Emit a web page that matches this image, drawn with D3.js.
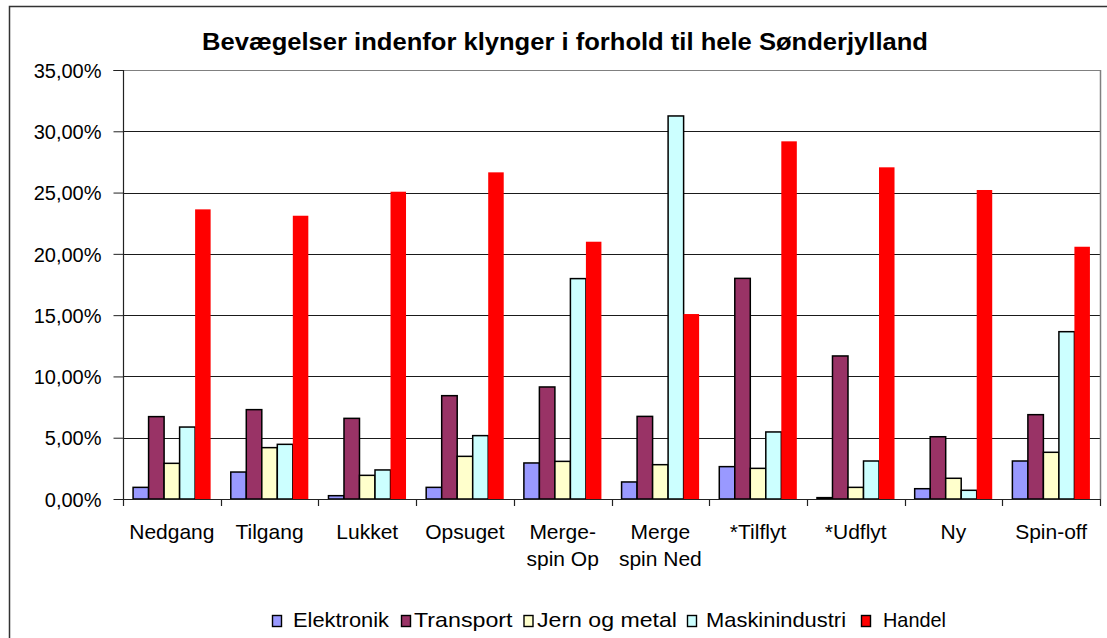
<!DOCTYPE html>
<html><head><meta charset="utf-8">
<script src="https://cdn.jsdelivr.net/npm/d3@7"></script>
<style>
html,body{margin:0;padding:0;background:#fff;}
svg{display:block;font-family:"Liberation Sans",Arial,sans-serif;}
</style></head>
<body>
<svg id="c" width="1107" height="638"></svg>
<script>
const categories = ["Nedgang","Tilgang","Lukket","Opsuget","Merge-\nspin Op","Merge\nspin Ned","*Tilflyt","*Udflyt","Ny","Spin-off"];
const seriesNames = ["Elektronik","Transport","Jern og metal","Maskinindustri","Handel"];
const elektronik     = [0.95, 2.20, 0.27, 0.95, 2.94, 1.39, 2.64, 0.11, 0.84, 3.10];
const transport      = [6.72, 7.29, 6.58, 8.43, 9.14, 6.74, 18.00, 11.67, 5.08, 6.88];
const jernOgMetal    = [2.91, 4.19, 1.93, 3.48, 3.07, 2.80, 2.50, 0.95, 1.69, 3.81];
const maskinindustri = [5.87, 4.46, 2.37, 5.17, 17.98, 31.25, 5.47, 3.10, 0.71, 13.65];
const handel         = [23.63, 23.11, 25.07, 26.65, 20.99, 15.09, 29.18, 27.06, 25.21, 20.58];
const seriesValues = [elektronik, transport, jernOgMetal, maskinindustri, handel];
const colors = ["#9999FF","#993366","#FFFFCC","#CCFFFF","#FF0000"];
const yTicks = [0,5,10,15,20,25,30,35];
const title = "Bevægelser indenfor klynger i forhold til hele Sønderjylland";

const svg = d3.select("#c");
const L = 123, R = 1100, T = 70, B = 499;

// outer chart border
svg.append("path").attr("d", `M9.5,638 V6.5 H1107`).attr("fill","none").attr("stroke","#333").attr("stroke-width",1.5);

// title
svg.append("text").attr("x",202).attr("y",50)
  .attr("font-size",23.5).attr("font-weight","bold").attr("fill","#000")
  .attr("textLength",726).attr("lengthAdjust","spacingAndGlyphs").text(title);

const y = d3.scaleLinear().domain([0,35]).range([B,T]);
const x0 = d3.scaleBand().domain(d3.range(categories.length)).range([L,R]).padding(0);
const x1 = d3.scaleBand().domain(d3.range(seriesNames.length)).range([0,x0.bandwidth()]).paddingInner(0).paddingOuter(0.65);

// gridlines
svg.append("g").selectAll("line").data(yTicks.filter(d=>d>0)).join("line")
  .attr("x1",L).attr("x2",R).attr("y1",d=>Math.round(y(d))+0.5).attr("y2",d=>Math.round(y(d))+0.5)
  .attr("stroke",d=>d===35?"#808080":"#1a1a1a").attr("stroke-width",1);
// right border of plot area
svg.append("line").attr("x1",R+0.5).attr("x2",R+0.5).attr("y1",T).attr("y2",B).attr("stroke","#808080").attr("stroke-width",1.5);

// bars
const data = [];
categories.forEach((c,i)=>seriesValues.forEach((vals,s)=>data.push({i,s,v:vals[i]})));
svg.append("g").selectAll("rect").data(data).join("rect")
  .attr("x",d=>x0(d.i)+x1(d.s))
  .attr("y",d=>y(d.v))
  .attr("width",x1.bandwidth())
  .attr("height",d=>B-y(d.v))
  .attr("fill",d=>colors[d.s])
  .attr("stroke",d=>d.s===4?"none":"#000")
  .attr("stroke-width",1.5);

// y axis
const yAxis = d3.axisLeft(y).tickValues(yTicks).tickSize(10).tickPadding(12)
  .tickFormat(d=>d3.format(".2f")(d).replace(".",",")+"%");
const gy = svg.append("g").attr("transform",`translate(${L+0.5},0)`).call(yAxis);
gy.select(".domain").attr("stroke","#222").attr("stroke-width",1.2).attr("d",`M-10,${T+0.5}H0V${B+0.5}`);
gy.selectAll(".tick line").attr("stroke","#222");
gy.selectAll(".tick text").attr("font-size",20).attr("fill","#000").attr("font-family","Liberation Sans,Arial,sans-serif").attr("dy","0.36em");

// x axis
svg.append("line").attr("x1",L).attr("x2",R).attr("y1",B+0.5).attr("y2",B+0.5).attr("stroke","#222").attr("stroke-width",1.2);
svg.append("g").selectAll("line").data(d3.range(categories.length+1)).join("line")
  .attr("x1",i=>Math.round(L + i*x0.step())+0.5).attr("x2",i=>Math.round(L + i*x0.step())+0.5)
  .attr("y1",B).attr("y2",B+7).attr("stroke","#222").attr("stroke-width",1.2);

const labels = svg.append("g").selectAll("text").data(categories).join("text")
  .attr("x",(d,i)=>x0(i)+x0.bandwidth()/2).attr("y",539)
  .attr("text-anchor","middle").attr("font-size",21).attr("fill","#000");
labels.each(function(d){
  const t = d3.select(this);
  d.split("\n").forEach((line,k)=>{
    t.append("tspan").attr("x",t.attr("x")).attr("dy",k===0?0:27).text(line);
  });
});

// legend
const legX = [272.5, 401.5, 524, 687.5, 861.5];
const legTX = [293, 414, 537, 706, 883];
const legW = [96, 98.5, 140, 140, 63];
const leg = svg.append("g");
seriesNames.forEach((n,s)=>{
  leg.append("rect").attr("x",legX[s]).attr("y",615.5).attr("width",9).attr("height",11)
    .attr("fill",colors[s]).attr("stroke","#000").attr("stroke-width",1.4);
  leg.append("text").attr("x",legTX[s]).attr("y",626.7).attr("font-size",21)
    .attr("textLength",legW[s]).attr("lengthAdjust","spacingAndGlyphs")
    .attr("fill","#000").text(n);
});
</script>
</body></html>
